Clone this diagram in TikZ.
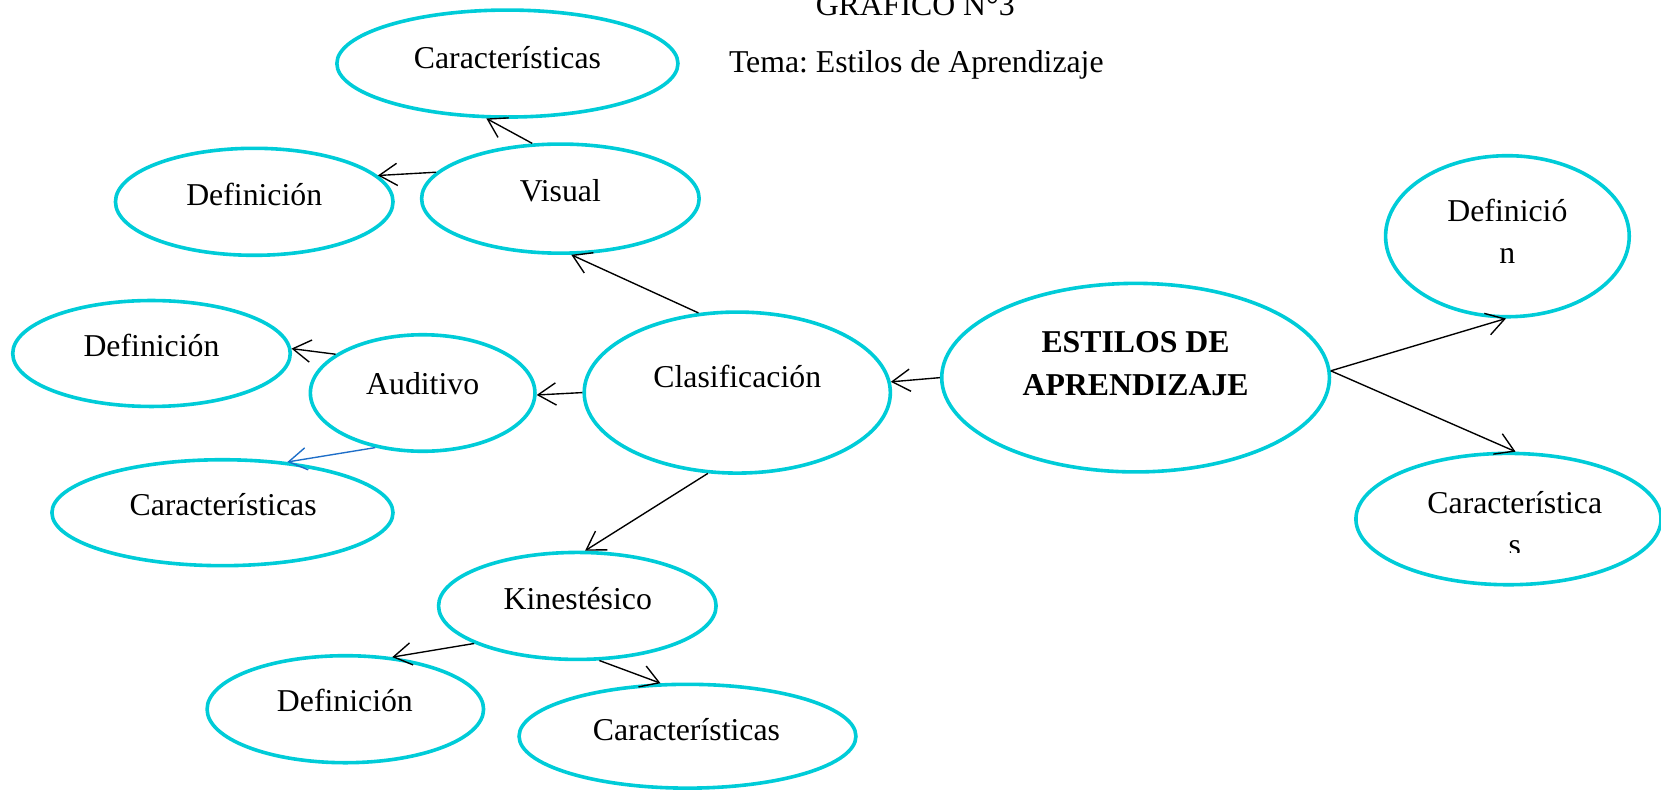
\documentclass[tikz,border=0pt]{standalone}
\usepackage{fontspec}
\setmainfont{Liberation Serif}
\usetikzlibrary{shapes.geometric,arrows.meta}
\definecolor{cy}{RGB}{0,204,216}
\definecolor{bl}{RGB}{30,110,200}
\frenchspacing
\begin{document}
\begin{tikzpicture}[x=1pt,y=-1pt,
  el/.style={ellipse, draw=cy, line width=3.4pt, inner sep=0pt},
  tx/.style={font=\fontsize{30}{40}\selectfont, inner sep=0pt, anchor=base},
  ar/.style={line width=1.3pt, -{Straight Barb[length=17pt,width=21pt]}},
]
\useasboundingbox (0,0) rectangle (1568,746);
% ellipses
\node[el, minimum width=322pt, minimum height=101pt] (cartop) at (479,60) {};
\node[el, minimum width=262pt, minimum height=101pt] (def1) at (240,190.5) {};
\node[el, minimum width=262pt, minimum height=103pt] (vis) at (529,187.5) {};
\node[el, minimum width=262pt, minimum height=100pt] (def2) at (143,333.7) {};
\node[el, minimum width=212pt, minimum height=110pt] (aud) at (399,371) {};
\node[el, minimum width=289pt, minimum height=152pt] (clas) at (696,370.6) {};
\node[el, minimum width=366pt, minimum height=178pt] (est) at (1072,356.5) {};
\node[el, minimum width=230pt, minimum height=152pt] (def3) at (1423,223) {};
\node[el, minimum width=288pt, minimum height=124pt] (car3) at (1424,490) {};
\node[el, minimum width=322pt, minimum height=100pt] (car2) at (210,484) {};
\node[el, minimum width=262pt, minimum height=101pt] (kin) at (545,572) {};
\node[el, minimum width=261pt, minimum height=101pt] (def4) at (326,669.5) {};
\node[el, minimum width=318pt, minimum height=98pt] (car5) at (649,695) {};
% texts
\node[tx] (title) at (864,15) {GRAFICO N°3};
\node[tx] (tema) at (865,68) {Tema: Estilos de Aprendizaje};
\node[tx] (cartop-t) at (479,64.5) {Características};
\node[tx] (def1-t) at (240,193.6) {Definición};
\node[tx] (vis-t) at (529,190) {Visual};
\node[tx] (def2-t) at (143,337) {Definición};
\node[tx] (aud-t) at (399,372) {Auditivo};
\node[tx] (clas-t) at (696,365.6) {Clasificación};
\node[tx] (est-t) at (1072,333) {\bfseries\begin{tabular}[t]{@{}c@{}}ESTILOS DE\\APRENDIZAJE\end{tabular}};
\node[tx] (def3-t) at (1423,209) {\begin{tabular}[t]{@{}c@{}}Definició\\n\end{tabular}};
\begin{scope}
\clip (1270,420) rectangle (1580,522);
\node[tx] (car3-t) at (1430,484.6) {\begin{tabular}[t]{@{}c@{}}Característica\\s\end{tabular}};
\end{scope}
\node[tx] (car2-t) at (210.6,486.5) {Características};
\node[tx] (kin-t) at (545.4,575) {Kinestésico};
\node[tx] (def4-t) at (325.6,672) {Definición};
\node[tx] (car5-t) at (648,699.4) {Características};
% connectors
\draw[ar] (vis.117) -- (cartop.-111);
\draw[ar] (vis.168) -- (def1.12);
\draw[ar] (clas.116) -- (vis.-79);
\draw[ar] (clas.180) -- (aud.-1);
\draw[ar] (aud.156) -- (def2.2);
\draw[ar, draw=bl] (aud.-131) -- (car2.38);
\draw[ar] (clas.-110) -- (kin.82);
\draw[ar] (est.180) -- (clas.4);
\draw[ar] (est.2) -- (def3.-91);
\draw[ar] (est.2) -- (car3.84);
\draw[ar] (kin.-160) -- (def4.48);
\draw[ar] (kin.-68) -- (car5.117);
\end{tikzpicture}
\end{document}
